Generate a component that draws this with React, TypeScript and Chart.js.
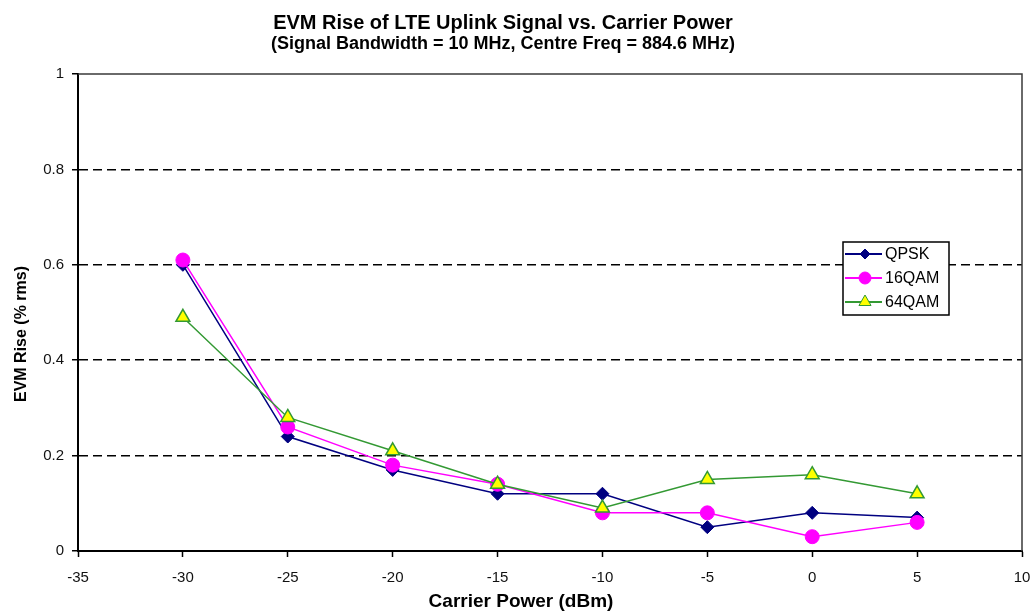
import React, { useEffect, useRef } from 'react';
import { Chart, registerables } from 'chart.js';

Chart.register(...registerables);

const FONT = "'Liberation Sans', Arial, Helvetica, sans-serif";

// ---- Data ----
const carrierPower = [-30, -25, -20, -15, -10, -5, 0, 5];
const qpskValues = [0.60, 0.24, 0.17, 0.12, 0.12, 0.05, 0.08, 0.07];
const qam16Values = [0.61, 0.26, 0.18, 0.14, 0.08, 0.08, 0.03, 0.06];
const qam64Values = [0.49, 0.28, 0.21, 0.14, 0.09, 0.15, 0.16, 0.12];
const seriesLabels = ['QPSK', '16QAM', '64QAM'];

const xAxisRange = [-35, 10];
const xAxisStep = 5;
const yAxisRange = [0, 1];
const yAxisStep = 0.2;

const chartTitle = 'EVM Rise of LTE Uplink Signal vs. Carrier Power';
const chartSubtitle = '(Signal Bandwidth = 10 MHz, Centre Freq = 884.6 MHz)';
const xAxisTitle = 'Carrier Power (dBm)';
const yAxisTitle = 'EVM Rise (% rms)';

const toPoints = (vals: number[]) => carrierPower.map((x, i) => ({ x, y: vals[i] }));

function drawMarker(ctx: CanvasRenderingContext2D, style: string, x: number, y: number, r: number, fill: string, stroke: string, lw: number) {
  ctx.save();
  ctx.beginPath();
  if (style === 'rectRot') {
    ctx.moveTo(x - r, y);
    ctx.lineTo(x, y - r);
    ctx.lineTo(x + r, y);
    ctx.lineTo(x, y + r);
    ctx.closePath();
  } else if (style === 'triangle') {
    const a = (2 * Math.PI) / 3;
    ctx.moveTo(x, y - r);
    ctx.lineTo(x + Math.sin(a) * r, y - Math.cos(a) * r);
    ctx.lineTo(x + Math.sin(2 * a) * r, y - Math.cos(2 * a) * r);
    ctx.closePath();
  } else {
    ctx.arc(x, y, r, 0, Math.PI * 2);
  }
  ctx.fillStyle = fill;
  ctx.fill();
  ctx.lineWidth = lw;
  ctx.strokeStyle = stroke;
  ctx.stroke();
  ctx.restore();
}

const extrasPlugin = {
  id: 'extras',
  afterDraw(chart: any) {
    const { ctx, chartArea: a } = chart;
    ctx.save();
    // frame top and right
    ctx.strokeStyle = '#3a3a3a';
    ctx.lineWidth = 1.5;
    ctx.beginPath();
    ctx.moveTo(a.left, a.top);
    ctx.lineTo(a.right, a.top);
    ctx.lineTo(a.right, a.bottom);
    ctx.stroke();

    // titles
    ctx.fillStyle = '#000';
    ctx.textAlign = 'center';
    ctx.textBaseline = 'alphabetic';
    ctx.font = `bold 20px ${FONT}`;
    ctx.fillText(chartTitle, 503, 29);
    ctx.font = `bold 18px ${FONT}`;
    ctx.fillText(chartSubtitle, 503, 49);
    ctx.font = `bold 19px ${FONT}`;
    ctx.fillText(xAxisTitle, 521, 607);
    ctx.save();
    ctx.translate(26, 334);
    ctx.rotate(-Math.PI / 2);
    ctx.font = `bold 16px ${FONT}`;
    ctx.fillText(yAxisTitle, 0, 0);
    ctx.restore();

    // legend
    const lx = a.right - 179;
    const ly = a.top + 168;
    const lw = 106;
    const lh = 73;
    ctx.fillStyle = '#fff';
    ctx.fillRect(lx, ly, lw, lh);
    ctx.strokeStyle = '#000';
    ctx.lineWidth = 1.5;
    ctx.strokeRect(lx, ly, lw, lh);
    const ds = chart.data.datasets;
    const sizes = [5, 6, 7];
    ctx.font = `16px ${FONT}`;
    ctx.textAlign = 'left';
    ctx.textBaseline = 'middle';
    ds.forEach((d: any, i: number) => {
      const y = ly + 12 + i * 24;
      ctx.strokeStyle = d.borderColor;
      ctx.lineWidth = 2;
      ctx.beginPath();
      ctx.moveTo(lx + 2, y);
      ctx.lineTo(lx + 39, y);
      ctx.stroke();
      drawMarker(ctx, d.pointStyle, lx + 22, y, sizes[i], d.pointBackgroundColor, d.pointBorderColor, 1);
      ctx.fillStyle = '#000';
      ctx.fillText(d.label, lx + 42, y + 1);
    });
    ctx.restore();
  },
};

export default function App() {
  const canvasRef = useRef<HTMLCanvasElement | null>(null);

  useEffect(() => {
    if (!canvasRef.current) return;
    const chart = new Chart(canvasRef.current, {
      type: 'line',
      data: {
        datasets: [
          {
            label: seriesLabels[0],
            data: toPoints(qpskValues),
            borderColor: '#000080',
            backgroundColor: '#000080',
            pointBackgroundColor: '#000080',
            pointBorderColor: '#000080',
            pointStyle: 'rectRot',
            pointRadius: 6.5,
            pointBorderWidth: 1,
            borderWidth: 1.5,
            order: 3,
          },
          {
            label: seriesLabels[1],
            data: toPoints(qam16Values),
            borderColor: '#FF00FF',
            backgroundColor: '#FF00FF',
            pointBackgroundColor: '#FF00FF',
            pointBorderColor: '#FF00FF',
            pointStyle: 'circle',
            pointRadius: 7,
            pointBorderWidth: 1,
            borderWidth: 1.5,
            order: 2,
          },
          {
            label: seriesLabels[2],
            data: toPoints(qam64Values),
            borderColor: '#339933',
            backgroundColor: '#FFFF00',
            pointBackgroundColor: '#FFFF00',
            pointBorderColor: '#339933',
            pointStyle: 'triangle',
            pointRadius: 8,
            pointBorderWidth: 1.5,
            borderWidth: 1.5,
            order: 1,
          },
        ] as any,
      },
      options: {
        responsive: false,
        animation: false,
        events: [],
        layout: { padding: { top: 74, right: 0, bottom: 0, left: 0 } },
        plugins: {
          legend: { display: false },
          tooltip: { enabled: false },
          title: { display: false },
        },
        scales: {
          x: {
            type: 'linear',
            min: xAxisRange[0],
            max: xAxisRange[1],
            afterFit: (s: any) => { s.height = 60; s.paddingRight = 10; s.paddingLeft = 0; },
            ticks: {
              stepSize: xAxisStep,
              color: '#111',
              padding: 12,
              font: { family: FONT, size: 15 },
              maxRotation: 0,
              autoSkip: false,
            },
            grid: {
              drawOnChartArea: false,
              drawTicks: true,
              tickLength: 6,
              tickColor: '#000',
              tickWidth: 1.5,
            },
            border: { display: true, color: '#000', width: 2 },
          },
          y: {
            type: 'linear',
            min: yAxisRange[0],
            max: yAxisRange[1],
            afterFit: (s: any) => { s.width = 78; },
            ticks: {
              stepSize: yAxisStep,
              color: '#111',
              padding: 8,
              font: { family: FONT, size: 15 },
              callback: (v: any) => String(Number(Number(v).toFixed(2))),
            },
            grid: {
              drawOnChartArea: true,
              drawTicks: true,
              tickLength: 6,
              color: (c: any) => (c.tick && (c.tick.value === 0 || c.tick.value === 1) ? 'rgba(0,0,0,0)' : '#000'),
              lineWidth: 1.5,
              tickColor: '#000',
              tickWidth: 1.5,
            },
            border: { display: true, color: '#000', width: 2, dash: [9, 5] },
          },
        },
      } as any,
      plugins: [extrasPlugin],
    });
    return () => chart.destroy();
  }, []);

  return (
    <div style={{ position: 'absolute', left: 0, top: 0, width: 1032, height: 611, background: '#fff' }}>
      <canvas ref={canvasRef} width={1032} height={611} style={{ display: 'block' }} />
    </div>
  );
}
